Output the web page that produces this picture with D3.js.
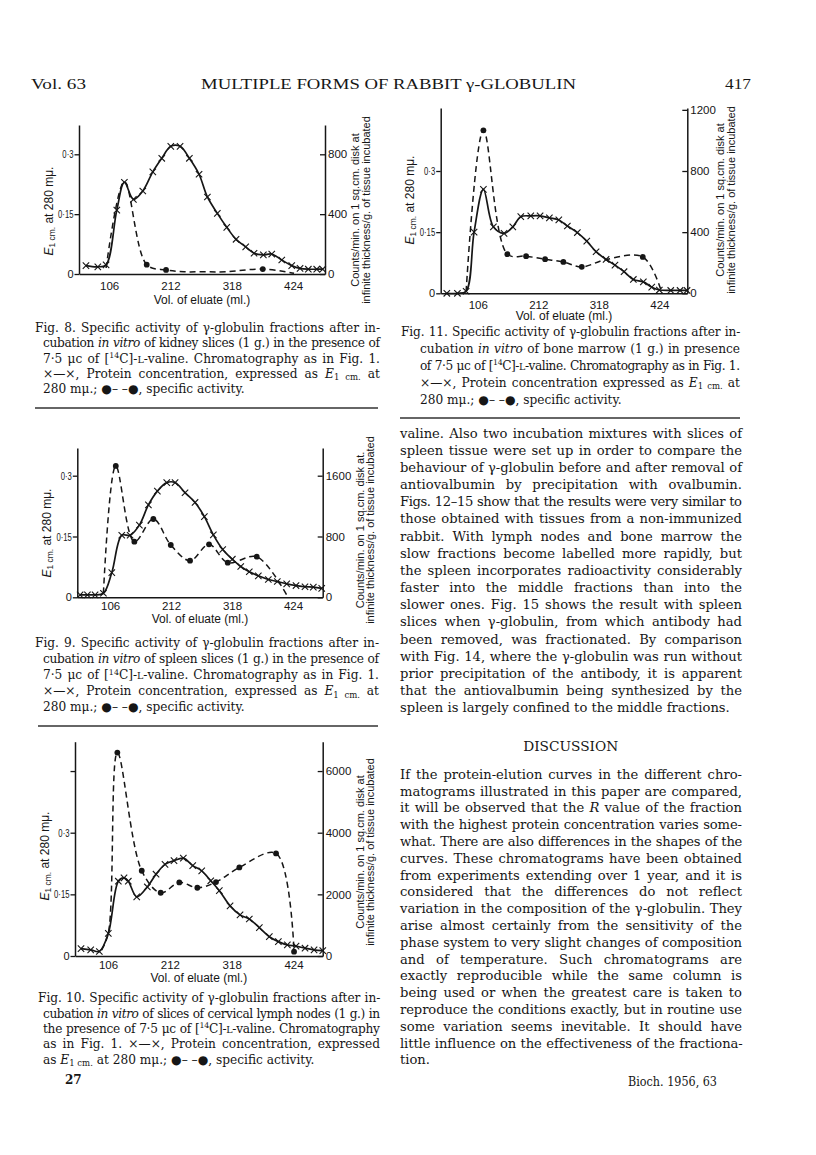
<!DOCTYPE html>
<html><head><meta charset="utf-8">
<script src="https://cdn.jsdelivr.net/npm/d3@7"></script>
<style>body{margin:0;background:#fff}svg{display:block;background:#fff}</style>
</head><body>
<svg id="page" width="816" height="1155"></svg>
<script>
// ---------------- DATA ----------------
const xTickValues = [106, 212, 318, 424];
const leftTickValues = [0, 0.15, 0.3];
const leftTickLabels = ["0", "0·15", "0·3"];
const fig10LeftTickValues = [0, 0.15, 0.3, 0.45];
const fig10LeftTickLabels = ["0", "0·15", "0·3", ""];
const fig8RightTicks = [0, 400, 800];
const fig11RightTicks = [0, 400, 800, 1200];
const fig9RightTicks = [0, 800, 1600];
const fig10RightTicks = [0, 2000, 4000, 6000];

// Fig. 8 kidney
const fig8ProteinMl = [66, 86.5, 100.8, 119.3, 132.4, 148, 164.2, 181.5, 197, 212.6, 228.6, 244.7, 261.4, 275.8, 293, 309.3, 325.3, 342, 356.4, 372.5, 387, 404.3, 421.5, 435.9, 450.2, 464.7, 475];
const fig8ProteinE = [0.021, 0.018, 0.023, 0.16, 0.23, 0.187, 0.208, 0.256, 0.29, 0.32, 0.32, 0.29, 0.25, 0.193, 0.152, 0.117, 0.087, 0.068, 0.052, 0.048, 0.05, 0.035, 0.021, 0.014, 0.012, 0.012, 0.012];
const fig8ActivityMl = [100.8, 132.4, 171, 204.4, 235.5, 268.9, 308, 371.5, 425.5];
const fig8ActivityCounts = [40, 617, 62, 27, 15, 15, 15, 33, 5];

// Fig. 11 bone marrow
const fig11ProteinMl = [51.7, 70.3, 85.5, 99.5, 115.8, 133.3, 152, 167.3, 181.3, 198.8, 215.1, 231.4, 247.9, 262.9, 280.4, 296.9, 313.2, 330.7, 346.3, 362.2, 378.5, 396, 410.7, 424, 444, 460.3, 472.5];
const fig11ProteinE = [0, 0, 0.005, 0.15, 0.255, 0.163, 0.147, 0.163, 0.188, 0.19, 0.19, 0.185, 0.18, 0.165, 0.149, 0.128, 0.102, 0.083, 0.069, 0.053, 0.034, 0.028, 0.015, 0.008, 0.007, 0.007, 0.007];
const fig11ActivityMl = [85.5, 115.8, 157.8, 190.6, 223.9, 255.9, 288.1, 330.7, 395, 426.5];
const fig11ActivityCounts = [10, 1066, 256, 243, 223, 205, 173, 221, 238, 26];

// Fig. 9 spleen
const fig9ProteinMl = [53.9, 66.6, 79.9, 94.4, 109, 126.3, 140.8, 156.9, 172.6, 188.2, 204.5, 219, 236.3, 253.7, 269.9, 285.5, 301.8, 318.5, 333.1, 348, 363.7, 381.1, 396.7, 413, 429.2, 444.8, 459.3, 473.9];
const fig9ProteinE = [0.006, 0.006, 0.006, 0.01, 0.061, 0.153, 0.153, 0.178, 0.228, 0.262, 0.283, 0.283, 0.258, 0.234, 0.199, 0.154, 0.118, 0.094, 0.076, 0.063, 0.053, 0.044, 0.039, 0.033, 0.029, 0.026, 0.025, 0.022];
const fig9ActivityMl = [94.4, 115.9, 148.2, 181.2, 211.5, 245, 278, 310.5, 360.9, 413];
const fig9ActivityCounts = [53, 1728, 732, 1030, 688, 482, 697, 455, 534, 30];

// Fig. 10 cervical lymph nodes
const fig10ProteinMl = [59.7, 76.3, 91.1, 106.5, 123.7, 133.4, 140.8, 155.2, 173.4, 188.3, 203.7, 219.1, 235.1, 251.2, 266.6, 282.1, 296.8, 315.2, 332.3, 348.2, 365.4, 382.5, 398, 413.4, 428.3, 443.7, 459.2, 474.1];
const fig10ProteinE = [0.018, 0.015, 0.011, 0.055, 0.182, 0.19, 0.182, 0.144, 0.168, 0.199, 0.223, 0.232, 0.238, 0.22, 0.207, 0.183, 0.159, 0.122, 0.1, 0.09, 0.069, 0.047, 0.035, 0.027, 0.024, 0.019, 0.015, 0.013];
const fig10ActivityMl = [95, 106.5, 122, 163.8, 196.3, 228.2, 259.1, 291.1, 331.1, 394, 424.9];
const fig10ActivityCounts = [195, 736, 6600, 2765, 2052, 2388, 2214, 2398, 2874, 3329, 140];

// ---------------- TEXT ----------------
const headerLeft = "Vol. 63";
const headerTitle = "MULTIPLE FORMS OF RABBIT γ-GLOBULIN";
const headerPage = "417";
const xAxisTitle = "Vol. of eluate (ml.)";
const leftAxisTitle = "*E*_1 cm._ at 280 mμ.";
const rightAxisTitle1 = "Counts/min. on 1 sq.cm. disk at";
const rightAxisTitle1b = "Counts/min. on 1 sq.cm. disk at.";
const rightAxisTitle2 = "infinite thickness/g. of tissue incubated";

const fig8Caption = [
  "Fig. 8. Specific activity of γ-globulin fractions after in-",
  "cubation *in vitro* of kidney slices (1 g.) in the presence of",
  "7·5 μc of [^14^C]-~L~-valine. Chromatography as in Fig. 1.",
  "×—×, Protein concentration, expressed as *E*_1 cm._ at",
  "280 mμ.; ●– –●, specific activity."
];
const fig11Caption = [
  "Fig. 11. Specific activity of γ-globulin fractions after in-",
  "cubation *in vitro* of bone marrow (1 g.) in presence",
  "of 7·5 μc of [^14^C]-~L~-valine. Chromatography as in Fig. 1.",
  "×—×, Protein concentration expressed as *E*_1 cm._ at",
  "280 mμ.; ●– –●, specific activity."
];
const fig9Caption = [
  "Fig. 9. Specific activity of γ-globulin fractions after in-",
  "cubation *in vitro* of spleen slices (1 g.) in the presence of",
  "7·5 μc of [^14^C]-~L~-valine. Chromatography as in Fig. 1.",
  "×—×, Protein concentration, expressed as *E*_1 cm._ at",
  "280 mμ.; ●– –●, specific activity."
];
const fig10Caption = [
  "Fig. 10. Specific activity of γ-globulin fractions after in-",
  "cubation *in vitro* of slices of cervical lymph nodes (1 g.) in",
  "the presence of 7·5 μc of [^14^C]-~L~-valine. Chromatography",
  "as in Fig. 1. ×—×, Protein concentration, expressed",
  "as *E*_1 cm._ at 280 mμ.; ●– –●, specific activity."
];
const bodyPara1 = [
  "valine. Also two incubation mixtures with slices of",
  "spleen tissue were set up in order to compare the",
  "behaviour of γ-globulin before and after removal of",
  "antiovalbumin by precipitation with ovalbumin.",
  "Figs. 12–15 show that the results were very similar to",
  "those obtained with tissues from a non-immunized",
  "rabbit. With lymph nodes and bone marrow the",
  "slow fractions become labelled more rapidly, but",
  "the spleen incorporates radioactivity considerably",
  "faster into the middle fractions than into the",
  "slower ones. Fig. 15 shows the result with spleen",
  "slices when γ-globulin, from which antibody had",
  "been removed, was fractionated. By comparison",
  "with Fig. 14, where the γ-globulin was run without",
  "prior precipitation of the antibody, it is apparent",
  "that the antiovalbumin being synthesized by the",
  "spleen is largely confined to the middle fractions."
];
const discussionTitle = "DISCUSSION";
const bodyPara2 = [
  "If the protein-elution curves in the different chro-",
  "matograms illustrated in this paper are compared,",
  "it will be observed that the *R* value of the fraction",
  "with the highest protein concentration varies some-",
  "what. There are also differences in the shapes of the",
  "curves. These chromatograms have been obtained",
  "from experiments extending over 1 year, and it is",
  "considered that the differences do not reflect",
  "variation in the composition of the γ-globulin. They",
  "arise almost certainly from the sensitivity of the",
  "phase system to very slight changes of composition",
  "and of temperature. Such chromatograms are",
  "exactly reproducible while the same column is",
  "being used or when the greatest care is taken to",
  "reproduce the conditions exactly, but in routine use",
  "some variation seems inevitable. It should have",
  "little influence on the effectiveness of the fractiona-",
  "tion."
];
const footerLeft = "27";
const footerRight = "Bioch. 1956, 63";

// ---------------- RENDER ----------------
const svg = d3.select('#page');
const INK = '#161616';
const SERIF = "'DejaVu Serif', serif";
const SANS = "'Liberation Sans', Arial, sans-serif";

function rich(textSel, str, fs) {
  const parts = str.split(/(\*[^*]+\*|\^[^^]+\^|_[^_]+_|~[^~]+~)/).filter(s => s.length);
  let shift = 0;
  let plain = "";
  parts.forEach(p => {
    let t = p, size = fs, target = 0, italic = false;
    const c = p[0];
    if (p.length > 2 && c === p[p.length - 1] && "*^_~".includes(c)) {
      t = p.slice(1, -1);
      if (c === '*') italic = true;
      if (c === '^') { size = fs * 0.65; target = -fs * 0.38; }
      if (c === '_') { size = fs * 0.7; target = fs * 0.22; }
      if (c === '~') { size = fs * 0.78; }
    }
    const ts = textSel.append('tspan').text(t).attr('font-size', size);
    if (italic) ts.attr('font-style', 'italic');
    if (target !== shift) { ts.attr('dy', target - shift); shift = target; }
    plain += t;
  });
  return plain;
}

// choose one font size for a group of justified blocks
function fitSize(blocks, fs0, slack, q) {
  const probe = svg.append('g').attr('font-family', SERIF);
  const ratios = [];
  blocks.forEach(o => {
    o.lines.forEach((ln, i) => {
      if (i === o.lines.length - 1) return;
      const x = i === 0 ? o.x : o.xi;
      const t = probe.append('text').attr('font-size', fs0);
      const plain = rich(t, ln, fs0);
      const len = t.node().getComputedTextLength();
      const spaces = (plain.match(/ /g) || []).length;
      ratios.push((o.right - x - spaces * slack) / len);
    });
  });
  probe.remove();
  ratios.sort((a, b) => a - b);
  return fs0 * ratios[Math.floor(ratios.length * q)];
}

function block(o, fs) {
  const g = svg.append('g').attr('font-family', SERIF).attr('fill', INK);
  o.lines.forEach((ln, i) => {
    const x = i === 0 ? o.x : o.xi;
    const t = g.append('text').attr('x', x).attr('y', o.y + i * o.dy + 0.36 * fs).attr('font-size', fs);
    const plain = rich(t, ln, fs);
    if (i === o.lines.length - 1) return;
    const W = o.right - x;
    const len = t.node().getComputedTextLength();
    const spaces = (plain.match(/ /g) || []).length;
    let ws = spaces > 0 ? (W - len) / spaces : 0;
    if (ws < 0.4) {
      ws = 0.4;
      const ls = (W - len - ws * spaces) / Math.max(plain.length - 1, 1);
      t.style('letter-spacing', ls + 'px');
    }
    t.style('word-spacing', ws + 'px');
  });
}

function single(str, o) {
  const t = svg.append('text').attr('x', o.x).attr('y', o.y + 0.36 * o.fs)
    .attr('font-family', o.family || SERIF).attr('font-size', o.fs).attr('fill', INK)
    .attr('text-anchor', o.anchor || 'start');
  if (o.weight) t.attr('font-weight', o.weight);
  rich(t, str, o.fs);
  if (o.len) t.attr('textLength', o.len).attr('lengthAdjust', 'spacingAndGlyphs');
  return t;
}

function panel(cfg, d) {
  const g = svg.append('g');
  const topVal = 0.3 * (cfg.y0 - cfg.top) / (cfg.y0 - cfg.y03);
  const x = d3.scaleLinear().domain([cfg.x0, cfg.x1]).range([cfg.left, cfg.right]);
  const yL = d3.scaleLinear().domain([0, topVal]).range([cfg.y0, cfg.top]);
  const yR = d3.scaleLinear().domain([0, topVal / 0.3 * cfg.rightAt03]).range([cfg.y0, cfg.top]);
  const tfs = 11.5;

  const gx = g.append('g').attr('transform', `translate(0,${cfg.y0})`)
    .call(d3.axisBottom(x).tickValues(xTickValues).tickSize(0).tickSizeOuter(0)
      .tickPadding(cfg.tickC - cfg.y0 - 0.35 * tfs));
  const gl = g.append('g').attr('transform', `translate(${cfg.left},0)`)
    .call(d3.axisLeft(yL).tickValues(d.leftTicks).tickFormat((v, i) => d.leftLabels[i])
      .tickSize(4.5).tickSizeOuter(0).tickPadding(1));
  const gr = g.append('g').attr('transform', `translate(${cfg.right},0)`)
    .call(d3.axisRight(yR).tickValues(d.rightTicks).tickFormat(v => String(v))
      .tickSize(-5).tickSizeOuter(0).tickPadding(3));
  [gx, gl, gr].forEach(a => {
    a.attr('font-family', SANS).attr('font-size', tfs);
    a.select('.domain').attr('stroke', INK).attr('stroke-width', 1.5);
    a.selectAll('.tick line').attr('stroke', INK).attr('stroke-width', 1.3);
    a.selectAll('.tick text').attr('fill', INK);
  });
  gl.attr('font-size', 11);
  // condensed decimal labels on the left axis (the printed figures set them tight)
  gl.selectAll('.tick text').each(function () {
    const n = this.getComputedTextLength();
    if (n > 0 && this.textContent.includes('·')) {
      d3.select(this).attr('textLength', n * 0.7).attr('lengthAdjust', 'spacingAndGlyphs');
    }
  });

  // axis titles
  g.append('text').attr('x', (cfg.left + cfg.right) / 2).attr('y', cfg.titleC + 0.36 * 12)
    .attr('text-anchor', 'middle').attr('font-family', SANS).attr('font-size', 12).attr('fill', INK)
    .text(xAxisTitle);
  const lt = g.append('text').attr('transform', `translate(${cfg.lLabX},${cfg.lLabC}) rotate(-90)`)
    .attr('y', 0.3 * 12).attr('text-anchor', 'middle').attr('font-family', SANS).attr('font-size', 12).attr('fill', INK);
  rich(lt, leftAxisTitle, 12);
  [[d.rightTitle1, cfg.rLab1], [rightAxisTitle2, cfg.rLab2]].forEach(([s, px]) => {
    g.append('text').attr('transform', `translate(${px},${cfg.rLabC}) rotate(-90)`)
      .attr('y', 0.36 * 11).attr('text-anchor', 'middle').attr('font-family', SANS)
      .attr('font-size', 11).attr('fill', INK).text(s);
  });

  const prot = d.protMl.map((m, i) => [m, d.protE[i]]);
  const act = d.actMl.map((m, i) => [m, d.actC[i]]);
  const curve = d3.curveCatmullRom.alpha(0.5);
  const lineL = d3.line().x(p => x(p[0])).y(p => yL(p[1])).curve(curve);
  const lineR = d3.line().x(p => x(p[0])).y(p => yR(p[1])).curve(curve);

  g.append('path').attr('d', lineR(act)).attr('fill', 'none').attr('stroke', INK)
    .attr('stroke-width', 1.5).attr('stroke-dasharray', '6,4');
  g.append('path').attr('d', lineL(prot)).attr('fill', 'none').attr('stroke', INK)
    .attr('stroke-width', 1.7);

  g.selectAll('.xm').data(prot).join('path')
    .attr('transform', p => `translate(${x(p[0])},${yL(p[1])})`)
    .attr('d', 'M-3.2,-3.2L3.2,3.2M-3.2,3.2L3.2,-3.2').attr('stroke', INK).attr('stroke-width', 1.1).attr('fill', 'none');

  const rMax = cfg.rightAt03 / 0.3 * 0.45;
  const dots = act.filter(p => {
    const px = x(p[0]), py = yR(p[1]);
    const near = prot.some(q => Math.hypot(x(q[0]) - px, yL(q[1]) - py) < 4.5);
    return !near && p[1] > rMax * 0.015;
  });
  g.selectAll('.dot').data(dots).join('circle')
    .attr('cx', p => x(p[0])).attr('cy', p => yR(p[1])).attr('r', 2.9).attr('fill', INK);
}

// panel layouts
panel({left:79, right:325, x0:54, x1:479, y0:274, y03:154.3, top:125, rightAt03:800,
       tickC:286, titleC:300, rLab1:355, rLab2:366.5, rLabC:210, lLabX:49, lLabC:211},
  {protMl:fig8ProteinMl, protE:fig8ProteinE, actMl:fig8ActivityMl, actC:fig8ActivityCounts,
   leftTicks:leftTickValues, leftLabels:leftTickLabels, rightTicks:fig8RightTicks, rightTitle1:rightAxisTitle1});
panel({left:440.7, right:687.3, x0:41, x1:473, y0:293.3, y03:171, top:108, rightAt03:800,
       tickC:305, titleC:316, rLab1:720.5, rLab2:731.5, rLabC:200, lLabX:410, lLabC:200},
  {protMl:fig11ProteinMl, protE:fig11ProteinE, actMl:fig11ActivityMl, actC:fig11ActivityCounts,
   leftTicks:leftTickValues, leftLabels:leftTickLabels, rightTicks:fig11RightTicks, rightTitle1:rightAxisTitle1});
panel({left:77.3, right:322.7, x0:49, x1:475.6, y0:597.3, y03:475.7, top:448, rightAt03:1600,
       tickC:606, titleC:619, rLab1:360.5, rLab2:370, rLabC:530, lLabX:47, lLabC:533},
  {protMl:fig9ProteinMl, protE:fig9ProteinE, actMl:fig9ActivityMl, actC:fig9ActivityCounts,
   leftTicks:leftTickValues, leftLabels:leftTickLabels, rightTicks:fig9RightTicks, rightTitle1:rightAxisTitle1b});
panel({left:75, right:322.7, x0:49.4, x1:474, y0:956, y03:832.7, top:741.7, rightAt03:4000,
       tickC:965, titleC:978, rLab1:360, rLab2:370.5, rLabC:852, lLabX:45, lLabC:856},
  {protMl:fig10ProteinMl, protE:fig10ProteinE, actMl:fig10ActivityMl, actC:fig10ActivityCounts,
   leftTicks:fig10LeftTickValues, leftLabels:fig10LeftTickLabels, rightTicks:fig10RightTicks, rightTitle1:rightAxisTitle1});

// header
single(headerLeft, {x:31, y:84, fs:15, family:"'Liberation Serif', serif", len:55});
single(headerTitle, {x:388.5, y:84, fs:15, family:"'Liberation Serif', serif", anchor:'middle', len:375});
single(headerPage, {x:725, y:84, fs:15, family:"'Liberation Serif', serif", len:26});

// captions (one common size)
const captions = [
  {lines:fig8Caption, x:35, xi:43, right:380, y:328, dy:15.1},
  {lines:fig11Caption, x:401, xi:420, right:740, y:332, dy:16.8},
  {lines:fig9Caption, x:35, xi:43, right:379, y:643, dy:15.9},
  {lines:fig10Caption, x:38, xi:43, right:380, y:998, dy:15.3}
];
const capFs = fitSize(captions, 10.5, 1.2, 0.5);
captions.forEach(c => block(c, capFs));

// rules
[[35, 378, 408], [400, 740, 418], [38, 378, 726]].forEach(([a, b, yy]) => {
  svg.append('line').attr('x1', a).attr('x2', b).attr('y1', yy).attr('y2', yy)
    .attr('stroke', '#666').attr('stroke-width', 2);
});

// body
const bodyBlocks = [
  {lines:bodyPara1, x:400, xi:400, right:742, y:433, dy:17.15},
  {lines:bodyPara2, x:400, xi:400, right:742, y:774, dy:16.8}
];
const bodyFs = fitSize(bodyBlocks, 11.8, 1.2, 0.45);
bodyBlocks.forEach(b => block(b, bodyFs));
single(discussionTitle, {x:570.7, y:746, fs:12.5, anchor:'middle', len:95});
single(footerLeft, {x:65, y:1080, fs:12, weight:'bold'});
single(footerRight, {x:628, y:1082, fs:12, len:89});
</script>
</body></html>
